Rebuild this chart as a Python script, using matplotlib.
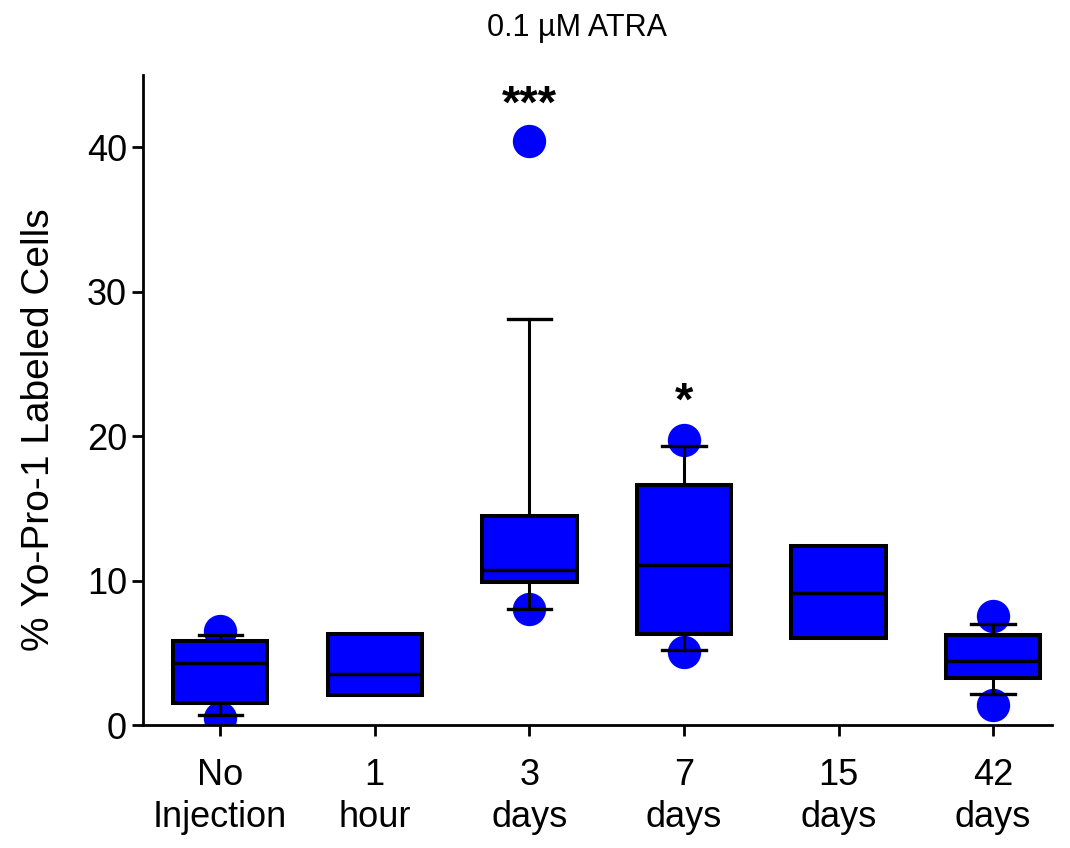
import matplotlib
matplotlib.use("Agg")
from matplotlib import pyplot as plt

# data
groups = ["No\nInjection", "1\nhour", "3\ndays", "7\ndays", "15\ndays", "42\ndays"]
q1 = [1.55, 2.10, 9.91, 6.31, 6.01, 3.24]
med = [4.32, 3.56, 10.74, 11.09, 9.13, 4.44]
q3 = [5.82, 6.31, 14.49, 16.64, 12.36, 6.24]
whislo = [0.71, 2.10, 8.04, 5.20, 6.01, 2.15]
whishi = [6.26, 6.31, 28.08, 19.34, 12.36, 6.98]
pts_x = [0, 0, 2, 2, 3, 3, 5, 5]
pts_y = [6.54, 0.46, 40.46, 8.0, 19.73, 5.08, 7.56, 1.39]
stars = {2: "***", 3: "*"}
star_y = {2: 42.05, 3: 21.5}

plt.rcParams["font.family"] = ["Liberation Sans", "DejaVu Sans"]

fig = plt.figure(figsize=(10.7, 8.48), dpi=100)
ax = fig.add_axes([0.1336, 0.145, 0.983 - 0.1336, 0.9116 - 0.145])

blue = "#0000ff"
ax.scatter(pts_x, pts_y, s=24 ** 2, color=blue, zorder=1, linewidths=0)

stats = []
for i in range(len(groups)):
    stats.append({"med": med[i], "q1": q1[i], "q3": q3[i],
                  "whislo": whislo[i], "whishi": whishi[i], "fliers": []})

bp = ax.bxp(stats, positions=range(len(groups)), widths=0.61, patch_artist=True,
            showfliers=False,
            boxprops=dict(facecolor=blue, edgecolor="black", linewidth=2.9),
            medianprops=dict(color="black", linewidth=2.5),
            whiskerprops=dict(color="black", linewidth=2.2),
            capprops=dict(color="black", linewidth=2.4),
            capwidths=0.28)
for art in bp["boxes"] + bp["medians"] + bp["whiskers"] + bp["caps"]:
    art.set_zorder(2)
# groups with no whisker beyond the box
for i in (1, 4):
    bp["caps"][2 * i].set_visible(False)
    bp["caps"][2 * i + 1].set_visible(False)

for k, s in stars.items():
    ax.text(k, star_y[k], s, ha="center", va="baseline", fontsize=34,
            fontweight="bold")

ax.set_xlim(-0.5, 5.38)
ax.set_ylim(0, 45)
ax.set_xticks(range(len(groups)), groups)
ax.set_yticks([0, 10, 20, 30, 40])
ax.tick_params(axis="both", labelsize=26, width=2, length=8, direction="out")
ax.tick_params(axis="x", pad=16)
for lbl in ax.get_xticklabels():
    lbl.set_linespacing(1.25)
ax.spines["top"].set_visible(False)
ax.spines["right"].set_visible(False)
ax.spines["left"].set_linewidth(2)
ax.spines["bottom"].set_linewidth(2)
ax.set_ylabel("% Yo-Pro-1 Labeled Cells", fontsize=28)
ax.yaxis.set_label_coords(-0.095, 0.455)
fig.text(0.539, 0.985, "0.1 µM ATRA", ha="center", va="top", fontsize=22)

fig.savefig("out.png", dpi=100)
